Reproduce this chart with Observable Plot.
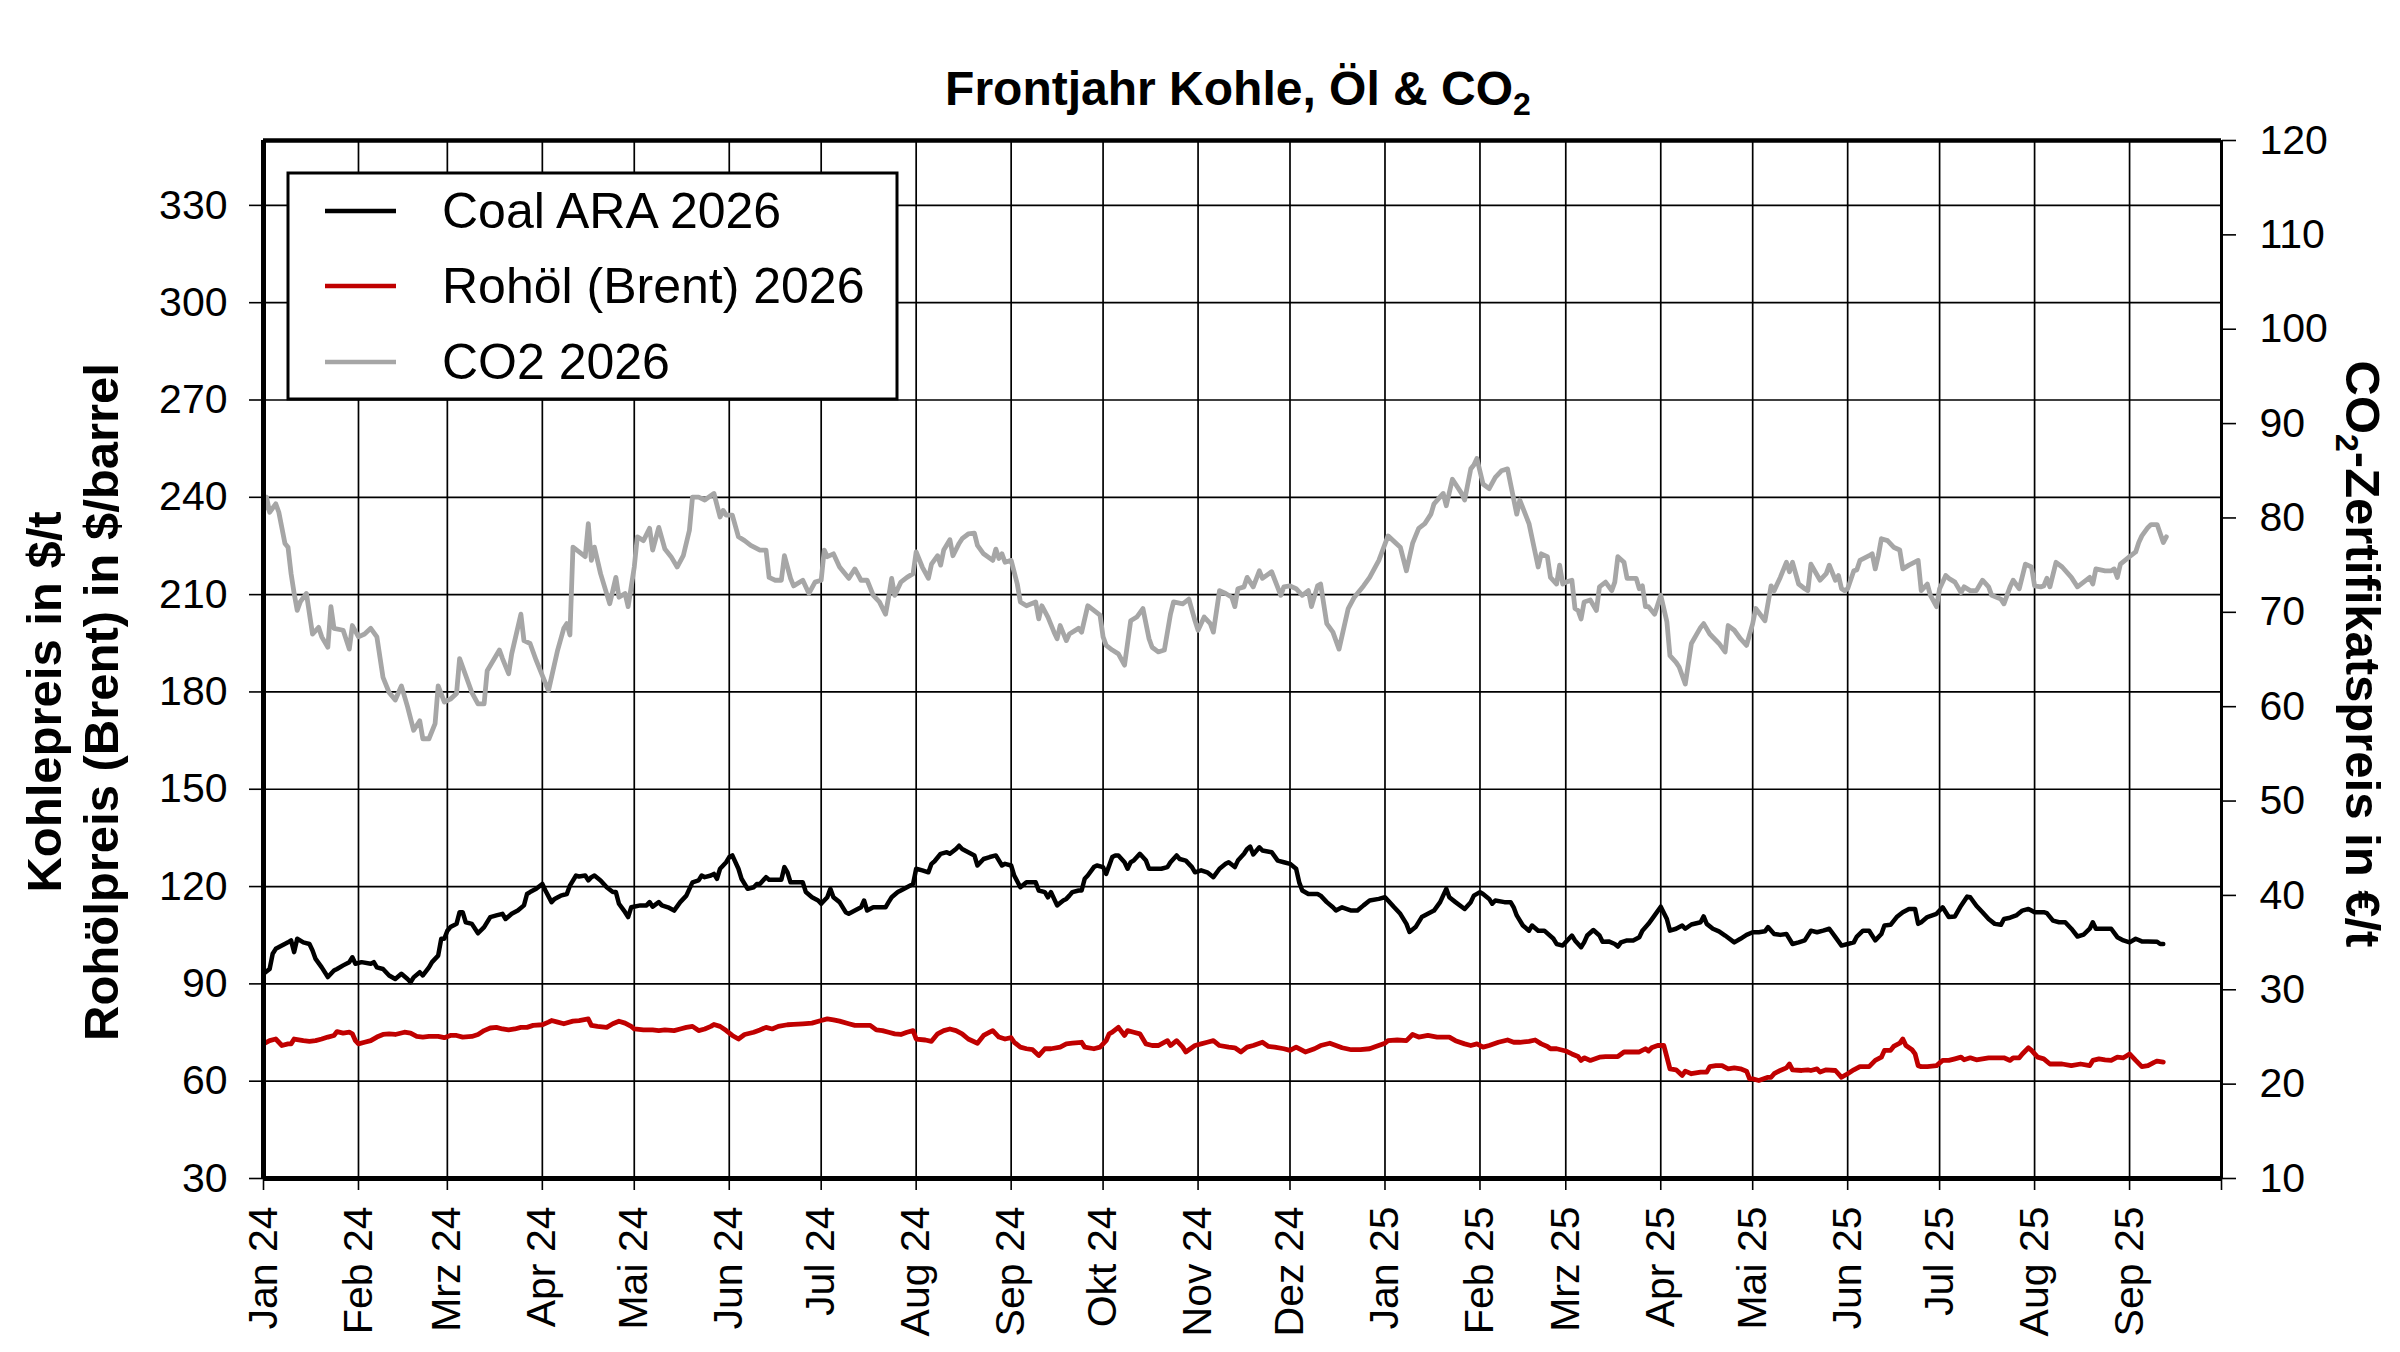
<!DOCTYPE html>
<html><head><meta charset="utf-8">
<script src="https://cdn.jsdelivr.net/npm/d3@7"></script>
<script src="https://cdn.jsdelivr.net/npm/@observablehq/plot@0.6"></script>
<style>
html,body{margin:0;padding:0;background:#fff;}
#wrap{position:relative;width:2400px;height:1352px;overflow:hidden;}
#head{height:120px;}
#overlay{position:absolute;left:0;top:0;pointer-events:none;}
</style></head><body>
<div id="wrap"><div id="head"></div><div id="chart"></div><svg id="overlay" width="2400" height="1352"></svg></div>
<script>
// ---- data: [day offset from 2024-01-01, value] ----
const coalData = [[0,93.1],[2,94.6],[3,99.3],[4,100.8],[6,101.8],[8,102.8],[9,103.4],[10,99.8],[11,103.9],[13,102.8],[15,102.3],[16,100.3],[17,97.7],[19,95.1],[21,92.1],[23,94.1],[24,94.6],[26,95.7],[28,96.7],[29,98.2],[30,96.2],[32,96.7],[35,96.2],[36,96.7],[37,95.1],[39,94.6],[41,92.6],[43,91.5],[45,93.1],[47,91.5],[48,90.5],[49,92.0],[51,93.6],[52,92.6],[54,95.1],[55,96.7],[57,98.7],[58,103.9],[59,103.9],[60,106.4],[61,107.5],[63,108.5],[64,112.1],[65,112.1],[66,109.0],[68,108.5],[70,105.6],[72,107.5],[74,110.6],[76,111.1],[78,111.6],[79,110.0],[81,111.6],[83,112.6],[85,114.2],[86,117.7],[87,118.3],[89,119.3],[91,120.8],[92,118.8],[94,115.2],[95,116.2],[97,117.2],[99,117.7],[100,120.3],[102,123.4],[103,123.1],[105,123.4],[106,121.9],[107,122.9],[108,123.4],[110,121.9],[112,119.8],[114,118.3],[115,118.3],[116,114.7],[118,112.1],[119,110.6],[120,113.6],[123,114.2],[125,114.2],[126,115.2],[127,113.8],[129,115.2],[130,114.2],[132,113.6],[134,112.6],[136,115.2],[138,117.2],[139,119.3],[140,121.3],[142,121.9],[143,123.4],[144,122.9],[146,123.4],[147,123.9],[148,122.4],[149,125.5],[151,127.5],[152,129.1],[153,129.6],[155,125.5],[156,122.4],[158,119.3],[160,119.8],[161,120.8],[162,120.8],[164,122.9],[165,122.1],[169,122.1],[170,126.0],[171,124.4],[172,121.3],[174,121.3],[176,121.3],[177,118.3],[179,116.7],[181,115.7],[182,114.7],[184,116.7],[185,119.3],[186,116.7],[188,115.2],[190,112.1],[191,111.6],[193,112.6],[195,113.6],[196,115.7],[197,112.6],[199,113.6],[201,113.6],[203,113.6],[204,115.2],[205,116.7],[207,118.3],[208,118.8],[210,119.8],[212,120.8],[213,125.5],[215,125.0],[217,124.4],[218,127.0],[219,127.8],[221,130.1],[223,130.6],[224,130.1],[226,131.6],[227,132.6],[228,131.6],[230,130.6],[232,129.6],[233,126.5],[235,128.5],[237,129.1],[239,129.6],[241,126.5],[242,127.0],[244,126.5],[245,123.4],[247,119.8],[249,121.3],[251,121.3],[252,121.3],[253,118.8],[255,118.3],[256,116.7],[257,118.3],[259,114.2],[261,115.7],[262,116.2],[263,117.2],[264,118.3],[266,118.8],[267,118.8],[268,122.4],[269,123.4],[271,126.0],[272,126.5],[274,126.0],[275,123.9],[277,129.1],[278,129.6],[279,129.6],[281,127.5],[282,125.5],[283,127.5],[284,128.0],[286,130.1],[288,128.0],[289,125.5],[290,125.5],[293,125.5],[295,126.0],[296,127.5],[298,129.6],[299,128.5],[301,128.0],[303,126.0],[304,124.4],[306,125.0],[308,124.4],[310,122.9],[312,125.5],[314,127.0],[315,127.5],[317,126.0],[318,128.0],[320,130.1],[321,131.6],[322,132.3],[323,129.9],[325,132.1],[326,131.1],[329,130.6],[331,128.0],[333,127.5],[335,127.0],[337,125.5],[338,121.3],[339,118.8],[341,117.7],[344,117.7],[345,117.2],[347,115.2],[349,113.6],[350,112.6],[352,113.6],[355,112.6],[357,112.6],[359,114.2],[361,115.7],[364,116.2],[366,116.7],[367,115.7],[369,113.6],[371,111.6],[373,108.5],[374,106.0],[376,107.5],[378,110.6],[380,111.6],[382,112.6],[384,115.2],[386,119.3],[387,116.7],[389,115.2],[392,113.1],[394,115.2],[395,117.2],[397,118.3],[398,117.7],[400,116.2],[401,114.7],[402,115.7],[405,115.2],[407,115.2],[408,113.6],[409,111.1],[411,108.0],[413,106.4],[414,108.0],[416,106.4],[418,106.4],[421,103.9],[422,102.3],[424,101.8],[426,103.9],[427,104.9],[428,103.4],[430,101.3],[431,102.8],[432,104.9],[434,106.6],[436,104.9],[437,103.0],[439,103.1],[441,102.3],[442,101.5],[443,102.8],[445,103.4],[447,103.4],[449,104.4],[450,106.4],[452,108.5],[454,111.1],[456,113.8],[458,110.0],[459,106.4],[461,107.0],[463,108.0],[464,107.0],[466,108.3],[469,109.0],[470,110.8],[471,108.5],[473,107.0],[475,106.2],[477,104.9],[480,102.8],[482,103.9],[484,105.1],[486,105.9],[488,105.9],[490,106.2],[491,107.5],[493,105.4],[495,105.1],[497,105.4],[499,102.3],[501,102.8],[503,103.4],[505,106.4],[507,105.9],[509,106.4],[511,107.0],[513,104.4],[515,101.8],[517,102.3],[519,102.8],[520,104.6],[522,106.4],[524,106.4],[526,103.4],[528,105.4],[529,108.0],[531,108.2],[533,110.6],[535,112.1],[537,113.1],[539,113.1],[540,108.5],[541,109.0],[543,110.6],[546,111.6],[548,113.6],[550,110.6],[552,110.8],[554,114.1],[556,116.9],[557,116.7],[559,114.1],[561,112.1],[563,110.0],[565,108.5],[567,108.2],[568,110.0],[570,110.4],[572,111.1],[574,112.6],[576,113.1],[578,112.1],[581,112.1],[582,111.8],[584,109.5],[586,109.0],[588,109.0],[590,107.0],[592,104.6],[594,105.2],[596,107.0],[597,109.0],[598,107.0],[601,107.0],[603,107.0],[605,104.4],[607,103.4],[609,102.8],[611,103.9],[613,103.1],[615,103.1],[618,103.0],[619,102.3],[620,102.3]];

const oilData = [[0,71.5],[2,72.5],[4,73.0],[5,72.0],[6,71.0],[8,71.5],[9,71.5],[10,73.0],[13,72.5],[15,72.3],[17,72.5],[19,73.0],[21,73.6],[23,74.1],[24,75.3],[26,74.8],[28,75.1],[29,74.6],[30,72.5],[31,71.5],[33,72.0],[35,72.5],[37,73.6],[39,74.4],[41,74.6],[43,74.4],[46,75.1],[48,74.8],[50,73.8],[52,73.6],[54,73.8],[57,73.8],[59,73.4],[61,74.1],[63,74.1],[65,73.6],[68,73.8],[70,74.4],[72,75.6],[74,76.4],[76,76.6],[78,76.1],[80,75.8],[82,76.1],[84,76.6],[86,76.6],[88,77.2],[91,77.4],[93,78.2],[94,78.7],[96,78.2],[98,77.7],[101,78.5],[103,78.7],[106,79.2],[107,77.2],[109,76.9],[112,76.6],[114,77.7],[116,78.5],[118,77.9],[120,76.9],[121,76.1],[124,75.8],[127,75.8],[129,75.6],[131,75.8],[134,75.6],[136,76.1],[138,76.6],[140,76.9],[142,75.6],[144,76.1],[146,76.9],[147,77.5],[149,76.9],[151,75.6],[153,74.1],[155,73.0],[157,74.4],[160,75.1],[162,75.8],[164,76.6],[166,76.1],[168,76.9],[171,77.4],[173,77.5],[176,77.7],[179,77.9],[182,78.7],[184,79.2],[186,78.9],[188,78.5],[191,77.7],[193,77.2],[195,77.2],[198,77.2],[200,75.8],[202,75.6],[204,75.1],[206,74.6],[208,74.4],[210,75.1],[212,75.6],[213,73.0],[216,72.7],[218,72.3],[220,74.6],[222,75.6],[224,76.1],[226,75.6],[228,74.6],[230,73.0],[233,71.7],[235,74.1],[237,75.1],[238,75.6],[240,73.6],[242,73.0],[244,73.4],[245,72.0],[247,70.5],[249,70.0],[251,69.7],[253,67.9],[255,70.0],[257,70.0],[260,70.5],[262,71.5],[264,71.7],[267,72.0],[268,70.5],[271,70.0],[273,70.5],[275,72.5],[276,74.6],[277,75.1],[279,76.6],[281,74.1],[282,75.6],[284,75.1],[286,74.6],[288,71.5],[290,71.0],[292,71.0],[295,72.5],[296,71.0],[298,72.5],[300,70.5],[301,69.0],[304,71.0],[306,71.5],[308,72.0],[310,72.5],[312,71.0],[315,70.5],[317,70.3],[319,69.0],[321,70.5],[323,71.0],[326,72.0],[328,70.7],[330,70.5],[333,70.0],[335,69.5],[337,70.5],[340,69.0],[343,70.0],[345,71.0],[348,71.7],[350,71.0],[352,70.3],[355,69.7],[358,69.7],[361,70.0],[363,70.7],[366,71.7],[367,72.5],[370,72.7],[373,72.5],[375,74.4],[377,73.6],[380,74.1],[383,73.6],[385,73.6],[387,73.6],[389,72.5],[392,71.5],[394,71.0],[396,71.5],[398,70.5],[400,71.0],[403,72.0],[406,72.7],[408,72.0],[410,72.0],[413,72.3],[415,72.7],[417,71.5],[419,70.7],[420,70.0],[422,70.0],[425,69.3],[427,68.4],[429,67.6],[430,66.4],[431,67.2],[433,66.4],[436,67.4],[438,67.6],[440,67.6],[442,67.6],[444,69.0],[447,69.0],[449,69.0],[451,70.0],[452,69.3],[453,70.3],[455,71.0],[457,71.0],[458,67.4],[459,63.8],[461,63.5],[463,61.8],[464,63.1],[466,62.3],[469,62.8],[471,62.8],[472,64.5],[474,64.8],[476,64.8],[478,63.8],[480,64.1],[482,63.8],[484,63.1],[485,60.7],[486,60.7],[488,60.2],[491,61.2],[492,61.2],[493,62.3],[495,63.3],[497,64.1],[498,65.3],[499,63.5],[502,63.3],[504,63.5],[505,63.3],[507,63.8],[508,62.8],[510,63.5],[513,63.3],[515,61.2],[517,62.3],[519,63.5],[521,64.5],[524,64.5],[526,66.4],[528,67.4],[529,69.5],[531,69.5],[532,70.7],[534,71.7],[535,73.0],[536,71.0],[538,69.7],[539,68.4],[540,64.8],[541,64.5],[543,64.5],[546,64.8],[548,66.4],[550,66.4],[552,66.9],[554,67.4],[555,66.6],[557,67.2],[559,66.6],[561,66.9],[563,67.2],[565,67.2],[568,67.2],[570,66.4],[571,67.2],[573,67.2],[574,68.4],[576,70.3],[577,69.5],[579,67.4],[581,66.9],[583,65.3],[585,65.3],[587,65.3],[590,64.8],[593,65.3],[596,64.8],[597,66.4],[599,66.9],[601,66.6],[603,66.4],[605,67.4],[607,67.2],[609,68.4],[611,66.4],[613,64.5],[615,64.8],[617,65.8],[618,66.2],[620,65.9]];

const co2Data = [[0,80.6],[1,82.2],[2,80.6],[4,81.5],[5,80.6],[7,77.3],[8,76.9],[9,74.1],[10,72.0],[11,70.2],[12,71.1],[14,72.0],[16,67.7],[18,68.4],[19,67.4],[21,66.3],[22,70.6],[23,68.3],[26,68.1],[28,66.1],[29,68.6],[31,67.4],[33,67.7],[35,68.3],[37,67.4],[39,63.1],[41,61.5],[43,60.7],[45,62.2],[47,60.0],[49,57.5],[51,58.5],[52,56.6],[54,56.6],[56,58.2],[57,62.2],[59,60.5],[61,60.8],[63,61.4],[64,65.1],[66,63.3],[68,61.5],[70,60.3],[72,60.3],[73,63.8],[77,66.0],[78,65.1],[80,63.5],[81,65.6],[84,69.8],[85,67.0],[87,66.7],[89,64.9],[93,61.7],[96,66.0],[98,68.3],[99,68.8],[100,67.6],[101,76.9],[103,76.4],[105,75.9],[106,79.4],[107,75.5],[108,76.9],[110,74.1],[113,70.9],[115,73.7],[116,71.6],[118,72.0],[119,70.6],[121,74.8],[122,78.0],[124,77.6],[126,78.9],[127,76.6],[129,79.0],[131,76.7],[133,75.9],[135,74.8],[137,76.0],[139,78.7],[140,82.2],[142,82.2],[144,81.9],[147,82.6],[149,80.1],[150,80.8],[151,80.3],[153,80.3],[155,78.0],[157,77.6],[159,77.1],[162,76.6],[164,76.6],[165,73.7],[167,73.4],[169,73.4],[170,76.0],[172,73.6],[173,72.8],[176,73.4],[178,72.0],[180,73.2],[182,73.4],[183,76.6],[184,75.9],[186,76.2],[188,74.8],[191,73.6],[193,74.6],[195,73.4],[197,73.4],[199,71.8],[201,71.1],[203,69.8],[204,71.6],[205,73.6],[206,71.8],[208,73.2],[210,73.7],[212,74.1],[213,76.4],[215,74.8],[217,73.6],[218,75.1],[220,76.0],[221,75.0],[222,76.6],[224,77.7],[225,76.0],[227,77.3],[228,77.8],[230,78.3],[232,78.4],[233,77.1],[235,76.2],[238,75.5],[239,76.7],[240,75.7],[241,76.2],[242,75.3],[244,75.5],[246,73.0],[247,71.1],[249,70.7],[252,71.1],[253,69.3],[254,70.7],[256,69.5],[258,67.9],[259,67.2],[260,68.6],[262,67.0],[263,67.7],[266,68.3],[267,67.9],[269,70.7],[271,70.2],[273,69.7],[274,67.4],[275,66.5],[277,66.0],[279,65.6],[281,64.4],[283,69.1],[285,69.5],[287,70.4],[289,67.2],[290,66.3],[292,65.8],[294,66.0],[296,69.8],[297,71.1],[300,70.9],[302,71.4],[304,69.1],[305,68.1],[307,69.5],[309,68.8],[310,67.9],[312,72.3],[314,72.0],[316,71.6],[317,70.6],[318,72.5],[320,72.7],[321,73.7],[323,72.7],[325,74.4],[326,73.6],[329,74.3],[332,71.8],[333,72.7],[335,72.8],[337,72.5],[339,71.8],[341,72.3],[342,70.6],[344,72.8],[345,73.0],[347,68.8],[349,67.9],[351,66.1],[354,70.4],[356,71.6],[359,72.8],[361,73.7],[364,75.5],[367,78.1],[371,76.9],[373,74.4],[375,77.3],[377,78.9],[379,79.4],[381,80.4],[382,81.5],[385,82.6],[386,81.3],[388,84.1],[391,82.6],[392,81.9],[394,85.2],[395,85.6],[396,86.3],[398,83.6],[400,83.1],[402,84.3],[404,85.0],[406,85.2],[407,83.6],[409,80.4],[410,81.9],[413,79.4],[416,74.8],[417,76.2],[419,75.9],[420,73.7],[422,73.0],[423,75.0],[424,73.0],[425,73.2],[427,73.4],[428,70.4],[429,70.2],[430,69.3],[431,71.1],[433,71.3],[435,70.2],[436,72.7],[438,73.2],[440,72.3],[441,73.2],[442,75.9],[444,75.3],[445,73.6],[448,73.6],[449,72.5],[450,72.8],[451,70.6],[452,70.6],[454,69.8],[456,71.8],[458,69.0],[459,65.4],[461,64.7],[462,64.2],[464,62.4],[466,66.7],[469,68.4],[470,68.8],[472,67.7],[475,66.7],[477,65.8],[478,68.6],[480,68.1],[482,67.2],[484,66.5],[486,68.8],[487,70.4],[490,69.1],[492,72.8],[493,72.3],[495,73.7],[497,75.3],[498,74.3],[499,75.3],[501,73.0],[503,72.5],[504,72.3],[505,75.1],[508,73.4],[510,74.1],[511,75.0],[513,73.4],[514,73.9],[515,72.5],[516,72.3],[517,72.5],[519,74.4],[520,74.5],[521,75.5],[524,76.0],[525,76.2],[526,74.6],[527,76.0],[528,77.8],[530,77.6],[532,76.9],[534,76.6],[535,74.6],[537,75.0],[540,75.5],[541,72.3],[543,73.0],[544,71.8],[546,70.6],[547,72.5],[549,73.9],[550,73.6],[552,73.2],[554,72.1],[555,72.7],[557,72.3],[559,72.3],[561,73.4],[563,72.7],[564,71.8],[567,71.4],[568,70.9],[570,72.7],[571,73.4],[573,72.5],[575,75.1],[577,74.8],[578,72.8],[580,72.7],[581,72.8],[582,73.6],[583,72.7],[585,75.3],[587,74.8],[590,73.7],[592,72.7],[594,73.2],[596,73.7],[597,73.0],[598,74.6],[601,74.4],[603,74.4],[604,74.6],[605,73.7],[606,75.1],[609,75.9],[611,76.4],[612,77.4],[613,78.1],[615,79.0],[616,79.3],[618,79.3],[620,77.4],[621,78.0]];

const monthLabels = ["Jan 24","Feb 24","Mrz 24","Apr 24","Mai 24","Jun 24","Jul 24","Aug 24","Sep 24","Okt 24","Nov 24","Dez 24","Jan 25","Feb 25","Mrz 25","Apr 25","Mai 25","Jun 25","Jul 25","Aug 25","Sep 25"];
const leftTicks = [30,60,90,120,150,180,210,240,270,300,330];
const rightTicks = [10,20,30,40,50,60,70,80,90,100,110,120];
const leftDomain = [30, 350];
const rightDomain = [10, 120];
const seriesNames = ["Coal ARA 2026", "Rohöl (Brent) 2026", "CO2 2026"];
const seriesColors = ["#000000", "#c00000", "#a6a6a6"];
const titleMain = "Frontjahr Kohle, Öl & CO";
const yLeftLines = ["Kohlepreis in $/t", "Rohölpreis (Brent) in $/barrel"];
const yRightParts = ["CO", "2", "-Zertifikatspreis in €/t"];

// ---- helpers ----
const start = new Date(Date.UTC(2024, 0, 1));
const end = new Date(Date.UTC(2025, 9, 1));
const dayToDate = d => new Date(Date.UTC(2024, 0, 1 + d));
const toLeft = c => leftDomain[0] + (c - rightDomain[0]) * (leftDomain[1] - leftDomain[0]) / (rightDomain[1] - rightDomain[0]);
const fromLeft = v => rightDomain[0] + (v - leftDomain[0]) * (rightDomain[1] - rightDomain[0]) / (leftDomain[1] - leftDomain[0]);
const coal = coalData.map(([d, v]) => ({date: dayToDate(d), v}));
const oil = oilData.map(([d, v]) => ({date: dayToDate(d), v}));
const co2 = co2Data.map(([d, v]) => ({date: dayToDate(d), v: toLeft(v)}));
const monthTicks = d3.range(monthLabels.length + 1).map(i => d3.utcMonth.offset(start, i));
const monthIndex = d => (d.getUTCFullYear() - 2024) * 12 + d.getUTCMonth();
const FONT = '"Liberation Sans", Arial, Helvetica, sans-serif';

const chart = Plot.plot({
  width: 2400,
  height: 1232,
  marginLeft: 263,
  marginRight: 179,
  marginTop: 20,
  marginBottom: 174,
  style: {fontFamily: FONT, fontSize: "41px", color: "black", background: "white", overflow: "visible"},
  x: {type: "utc", domain: [start, end]},
  y: {domain: leftDomain},
  marks: [
    Plot.ruleY(leftTicks.slice(1), {stroke: "black", strokeWidth: 1.7}),
    Plot.ruleX(monthTicks.slice(1, -1), {stroke: "black", strokeWidth: 1.7}),
    Plot.line(co2, {x: "date", y: "v", stroke: seriesColors[2], strokeWidth: 4.8, strokeLinejoin: "round"}),
    Plot.line(oil, {x: "date", y: "v", stroke: seriesColors[1], strokeWidth: 4.8, strokeLinejoin: "round"}),
    Plot.line(coal, {x: "date", y: "v", stroke: seriesColors[0], strokeWidth: 4.5, strokeLinejoin: "round"}),
    Plot.ruleY([leftDomain[1]], {stroke: "black", strokeWidth: 4.5}),
    Plot.ruleX([end], {stroke: "black", strokeWidth: 3}),
    Plot.ruleY([leftDomain[0]], {stroke: "black", strokeWidth: 5}),
    Plot.ruleX([start], {stroke: "black", strokeWidth: 5}),
    Plot.axisY(leftTicks, {anchor: "left", tickSize: 14, tickPadding: 22, strokeWidth: 1.6, fontSize: 41, label: null, tickFormat: d => String(d)}),
    Plot.axisY(rightTicks.map(toLeft), {anchor: "right", tickSize: 14, tickPadding: 24, strokeWidth: 1.6, fontSize: 41, label: null, tickFormat: d => String(Math.round(fromLeft(d)))}),
    Plot.axisX(monthTicks, {anchor: "bottom", tickSize: 12, tickPadding: 16, tickRotate: -90, strokeWidth: 1.6, fontSize: 41, label: null, tickFormat: d => monthLabels[monthIndex(d)] ?? ""})
  ]
});
document.getElementById("chart").appendChild(chart);

// ---- overlay texts & legend ----
const ov = d3.select("#overlay");
const title = ov.append("text").attr("x", 1238).attr("y", 105).attr("text-anchor", "middle")
  .attr("font-family", FONT).attr("font-weight", "bold").attr("font-size", 48);
title.append("tspan").text(titleMain);
title.append("tspan").attr("font-size", 32).attr("dy", 10).text("2");

[[61, yLeftLines[0]], [118, yLeftLines[1]]].forEach(([x, s]) => {
  ov.append("text").attr("transform", `translate(${x},702) rotate(-90)`).attr("text-anchor", "middle")
    .attr("font-family", FONT).attr("font-weight", "bold").attr("font-size", 49).text(s);
});
const rl = ov.append("text").attr("transform", "translate(2346,654) rotate(90)").attr("text-anchor", "middle")
  .attr("font-family", FONT).attr("font-weight", "bold").attr("font-size", 49);
rl.append("tspan").text(yRightParts[0]);
rl.append("tspan").attr("font-size", 32).attr("dy", 10).text(yRightParts[1]);
rl.append("tspan").attr("dy", -10).text(yRightParts[2]);

const lg = ov.append("g");
lg.append("rect").attr("x", 288).attr("y", 173).attr("width", 609).attr("height", 226)
  .attr("fill", "white").attr("stroke", "black").attr("stroke-width", 3);
const rowY = [211, 286, 362];
seriesNames.forEach((name, i) => {
  lg.append("line").attr("x1", 325).attr("x2", 396).attr("y1", rowY[i]).attr("y2", rowY[i])
    .attr("stroke", seriesColors[i]).attr("stroke-width", 4.5);
  lg.append("text").attr("x", 442).attr("y", rowY[i] + 17).attr("font-family", FONT)
    .attr("font-size", 50).attr("fill", "black").text(name);
});
</script></body></html>
